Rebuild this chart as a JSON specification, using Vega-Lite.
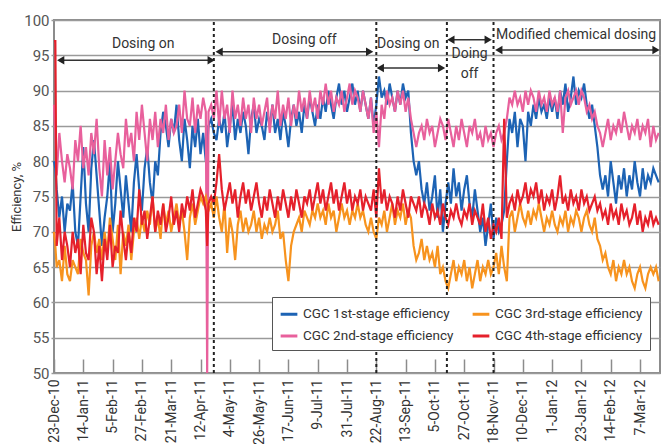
{
  "$schema": "https://vega.github.io/schema/vega-lite/v6.json",
  "width": 606,
  "height": 353,
  "autosize": "none",
  "padding": {"left": 54, "top": 20, "right": 1, "bottom": 71},
  "background": "white",
  "config": {
    "font": "Roboto, Liberation Sans, sans-serif",
    "view": {"stroke": "#8c8c8c", "strokeWidth": 2}
  },
  "datasets": {
    "eff": [
      {"d":"2010-12-23","b":80,"p":88,"o":70,"r":97},
      {"d":"2010-12-24","b":79,"p":84,"o":68,"r":97},
      {"d":"2010-12-25","b":76,"p":78,"o":65,"r":68},
      {"d":"2010-12-27","b":72,"p":84,"o":66,"r":72},
      {"d":"2010-12-29","b":75,"p":80,"o":63,"r":66},
      {"d":"2010-12-31","b":70,"p":77,"o":68,"r":70},
      {"d":"2011-01-02","b":74,"p":81,"o":64,"r":68},
      {"d":"2011-01-04","b":73,"p":79,"o":63,"r":65},
      {"d":"2011-01-06","b":77,"p":76,"o":66,"r":70},
      {"d":"2011-01-08","b":70,"p":83,"o":65,"r":67},
      {"d":"2011-01-10","b":68,"p":80,"o":64,"r":69},
      {"d":"2011-01-12","b":75,"p":85,"o":69,"r":64},
      {"d":"2011-01-14","b":82,"p":79,"o":67,"r":71},
      {"d":"2011-01-16","b":74,"p":82,"o":66,"r":67},
      {"d":"2011-01-18","b":70,"p":78,"o":61,"r":66},
      {"d":"2011-01-20","b":79,"p":84,"o":68,"r":72},
      {"d":"2011-01-22","b":83,"p":81,"o":70,"r":70},
      {"d":"2011-01-24","b":78,"p":86,"o":67,"r":64},
      {"d":"2011-01-26","b":73,"p":79,"o":69,"r":68},
      {"d":"2011-01-28","b":68,"p":75,"o":66,"r":63},
      {"d":"2011-01-30","b":72,"p":83,"o":70,"r":69},
      {"d":"2011-02-01","b":75,"p":78,"o":67,"r":66},
      {"d":"2011-02-03","b":80,"p":82,"o":72,"r":71},
      {"d":"2011-02-05","b":70,"p":76,"o":69,"r":65},
      {"d":"2011-02-07","b":74,"p":80,"o":66,"r":68},
      {"d":"2011-02-09","b":80,"p":84,"o":71,"r":67},
      {"d":"2011-02-11","b":76,"p":81,"o":64,"r":73},
      {"d":"2011-02-13","b":72,"p":79,"o":70,"r":69},
      {"d":"2011-02-15","b":78,"p":86,"o":68,"r":66},
      {"d":"2011-02-17","b":74,"p":82,"o":71,"r":70},
      {"d":"2011-02-19","b":70,"p":84,"o":66,"r":67},
      {"d":"2011-02-21","b":77,"p":80,"o":70,"r":72},
      {"d":"2011-02-23","b":81,"p":87,"o":72,"r":70},
      {"d":"2011-02-25","b":76,"p":83,"o":69,"r":76},
      {"d":"2011-02-27","b":73,"p":88,"o":72,"r":71},
      {"d":"2011-03-01","b":79,"p":84,"o":70,"r":73},
      {"d":"2011-03-03","b":82,"p":80,"o":73,"r":69},
      {"d":"2011-03-05","b":77,"p":86,"o":71,"r":72},
      {"d":"2011-03-07","b":74,"p":83,"o":75,"r":75},
      {"d":"2011-03-09","b":80,"p":87,"o":70,"r":70},
      {"d":"2011-03-11","b":78,"p":82,"o":72,"r":73},
      {"d":"2011-03-13","b":84,"p":86,"o":69,"r":71},
      {"d":"2011-03-15","b":87,"p":84,"o":74,"r":74},
      {"d":"2011-03-17","b":85,"p":88,"o":71,"r":70},
      {"d":"2011-03-19","b":82,"p":83,"o":73,"r":72},
      {"d":"2011-03-21","b":86,"p":86,"o":70,"r":75},
      {"d":"2011-03-23","b":84,"p":84,"o":72,"r":71},
      {"d":"2011-03-25","b":88,"p":85,"o":74,"r":73},
      {"d":"2011-03-27","b":83,"p":88,"o":71,"r":70},
      {"d":"2011-03-29","b":80,"p":84,"o":73,"r":74},
      {"d":"2011-03-31","b":86,"p":90,"o":70,"r":72},
      {"d":"2011-04-02","b":83,"p":86,"o":66,"r":75},
      {"d":"2011-04-04","b":79,"p":85,"o":72,"r":73},
      {"d":"2011-04-06","b":85,"p":89,"o":74,"r":76},
      {"d":"2011-04-08","b":82,"p":84,"o":71,"r":72},
      {"d":"2011-04-10","b":86,"p":88,"o":73,"r":74},
      {"d":"2011-04-12","b":81,"p":86,"o":75,"r":76},
      {"d":"2011-04-14","b":84,"p":89,"o":74,"r":75},
      {"d":"2011-04-16","b":80,"p":87,"o":75,"r":73},
      {"d":"2011-04-17","b":82,"p":50,"o":74,"r":68},
      {"d":"2011-04-18","b":85,"p":87,"o":73,"r":74},
      {"d":"2011-04-20","b":86,"p":88,"o":74,"r":75},
      {"d":"2011-04-22","b":84,"p":86,"o":72,"r":74},
      {"d":"2011-04-24","b":83,"p":90,"o":75,"r":77},
      {"d":"2011-04-26","b":86,"p":85,"o":72,"r":81},
      {"d":"2011-04-28","b":84,"p":90,"o":70,"r":76},
      {"d":"2011-04-30","b":87,"p":86,"o":74,"r":73},
      {"d":"2011-05-02","b":82,"p":88,"o":67,"r":75},
      {"d":"2011-05-04","b":85,"p":84,"o":72,"r":77},
      {"d":"2011-05-06","b":88,"p":90,"o":70,"r":74},
      {"d":"2011-05-08","b":83,"p":86,"o":66,"r":76},
      {"d":"2011-05-10","b":86,"p":88,"o":71,"r":72},
      {"d":"2011-05-12","b":84,"p":85,"o":73,"r":75},
      {"d":"2011-05-14","b":87,"p":89,"o":70,"r":77},
      {"d":"2011-05-16","b":85,"p":86,"o":72,"r":74},
      {"d":"2011-05-18","b":81,"p":88,"o":70,"r":76},
      {"d":"2011-05-20","b":86,"p":84,"o":71,"r":73},
      {"d":"2011-05-22","b":88,"p":89,"o":73,"r":75},
      {"d":"2011-05-24","b":84,"p":86,"o":70,"r":77},
      {"d":"2011-05-26","b":86,"p":88,"o":72,"r":74},
      {"d":"2011-05-28","b":85,"p":85,"o":69,"r":72},
      {"d":"2011-05-30","b":83,"p":87,"o":71,"r":75},
      {"d":"2011-06-01","b":87,"p":89,"o":70,"r":73},
      {"d":"2011-06-03","b":85,"p":84,"o":72,"r":76},
      {"d":"2011-06-05","b":88,"p":88,"o":70,"r":74},
      {"d":"2011-06-07","b":84,"p":86,"o":71,"r":72},
      {"d":"2011-06-09","b":86,"p":90,"o":73,"r":75},
      {"d":"2011-06-11","b":83,"p":85,"o":69,"r":73},
      {"d":"2011-06-13","b":87,"p":88,"o":70,"r":76},
      {"d":"2011-06-15","b":85,"p":86,"o":66,"r":74},
      {"d":"2011-06-17","b":82,"p":89,"o":63,"r":72},
      {"d":"2011-06-19","b":86,"p":85,"o":68,"r":75},
      {"d":"2011-06-21","b":88,"p":88,"o":70,"r":73},
      {"d":"2011-06-23","b":85,"p":86,"o":71,"r":76},
      {"d":"2011-06-25","b":87,"p":90,"o":72,"r":74},
      {"d":"2011-06-27","b":84,"p":87,"o":70,"r":72},
      {"d":"2011-06-29","b":88,"p":89,"o":73,"r":75},
      {"d":"2011-07-01","b":86,"p":86,"o":72,"r":74},
      {"d":"2011-07-03","b":89,"p":90,"o":71,"r":76},
      {"d":"2011-07-05","b":87,"p":87,"o":73,"r":73},
      {"d":"2011-07-07","b":85,"p":89,"o":72,"r":75},
      {"d":"2011-07-09","b":88,"p":86,"o":74,"r":77},
      {"d":"2011-07-11","b":86,"p":90,"o":72,"r":74},
      {"d":"2011-07-13","b":89,"p":88,"o":73,"r":76},
      {"d":"2011-07-15","b":87,"p":91,"o":71,"r":73},
      {"d":"2011-07-17","b":90,"p":88,"o":74,"r":75},
      {"d":"2011-07-19","b":88,"p":90,"o":72,"r":77},
      {"d":"2011-07-21","b":86,"p":87,"o":73,"r":74},
      {"d":"2011-07-23","b":89,"p":89,"o":70,"r":76},
      {"d":"2011-07-25","b":91,"p":88,"o":72,"r":73},
      {"d":"2011-07-27","b":88,"p":90,"o":74,"r":75},
      {"d":"2011-07-29","b":90,"p":87,"o":72,"r":77},
      {"d":"2011-07-31","b":87,"p":89,"o":73,"r":74},
      {"d":"2011-08-02","b":89,"p":91,"o":71,"r":76},
      {"d":"2011-08-04","b":91,"p":88,"o":73,"r":73},
      {"d":"2011-08-06","b":88,"p":90,"o":72,"r":75},
      {"d":"2011-08-08","b":90,"p":89,"o":74,"r":74},
      {"d":"2011-08-10","b":87,"p":87,"o":72,"r":76},
      {"d":"2011-08-12","b":90,"p":90,"o":73,"r":73},
      {"d":"2011-08-14","b":88,"p":88,"o":71,"r":75},
      {"d":"2011-08-16","b":86,"p":86,"o":70,"r":74},
      {"d":"2011-08-18","b":89,"p":89,"o":72,"r":73},
      {"d":"2011-08-20","b":85,"p":84,"o":70,"r":76},
      {"d":"2011-08-22","b":88,"p":87,"o":69,"r":72},
      {"d":"2011-08-24","b":92,"p":82,"o":72,"r":79},
      {"d":"2011-08-26","b":89,"p":88,"o":71,"r":74},
      {"d":"2011-08-28","b":90,"p":86,"o":73,"r":76},
      {"d":"2011-08-30","b":88,"p":90,"o":70,"r":73},
      {"d":"2011-09-01","b":91,"p":88,"o":72,"r":75},
      {"d":"2011-09-03","b":89,"p":89,"o":74,"r":74},
      {"d":"2011-09-05","b":87,"p":87,"o":71,"r":72},
      {"d":"2011-09-07","b":90,"p":90,"o":73,"r":75},
      {"d":"2011-09-09","b":88,"p":88,"o":72,"r":73},
      {"d":"2011-09-11","b":91,"p":90,"o":74,"r":76},
      {"d":"2011-09-13","b":89,"p":87,"o":71,"r":74},
      {"d":"2011-09-15","b":90,"p":89,"o":73,"r":72},
      {"d":"2011-09-17","b":84,"p":86,"o":72,"r":75},
      {"d":"2011-09-19","b":80,"p":84,"o":68,"r":74},
      {"d":"2011-09-21","b":78,"p":82,"o":66,"r":73},
      {"d":"2011-09-23","b":80,"p":84,"o":67,"r":75},
      {"d":"2011-09-25","b":76,"p":85,"o":69,"r":72},
      {"d":"2011-09-27","b":74,"p":83,"o":66,"r":74},
      {"d":"2011-09-29","b":77,"p":86,"o":68,"r":73},
      {"d":"2011-10-01","b":73,"p":84,"o":66,"r":71},
      {"d":"2011-10-03","b":75,"p":85,"o":67,"r":74},
      {"d":"2011-10-05","b":78,"p":82,"o":65,"r":72},
      {"d":"2011-10-07","b":72,"p":84,"o":68,"r":73},
      {"d":"2011-10-09","b":76,"p":86,"o":64,"r":71},
      {"d":"2011-10-11","b":70,"p":85,"o":65,"r":74},
      {"d":"2011-10-13","b":74,"p":83,"o":63,"r":72},
      {"d":"2011-10-15","b":77,"p":86,"o":62,"r":71},
      {"d":"2011-10-17","b":74,"p":84,"o":64,"r":73},
      {"d":"2011-10-19","b":79,"p":82,"o":66,"r":72},
      {"d":"2011-10-21","b":75,"p":85,"o":63,"r":74},
      {"d":"2011-10-23","b":77,"p":83,"o":65,"r":72},
      {"d":"2011-10-25","b":73,"p":86,"o":64,"r":71},
      {"d":"2011-10-27","b":76,"p":84,"o":66,"r":73},
      {"d":"2011-10-29","b":78,"p":82,"o":63,"r":72},
      {"d":"2011-10-31","b":74,"p":85,"o":65,"r":74},
      {"d":"2011-11-02","b":72,"p":84,"o":62,"r":71},
      {"d":"2011-11-04","b":76,"p":86,"o":64,"r":73},
      {"d":"2011-11-06","b":73,"p":83,"o":66,"r":72},
      {"d":"2011-11-08","b":70,"p":84,"o":63,"r":71},
      {"d":"2011-11-10","b":72,"p":82,"o":65,"r":74},
      {"d":"2011-11-12","b":68,"p":85,"o":64,"r":70},
      {"d":"2011-11-14","b":71,"p":83,"o":66,"r":72},
      {"d":"2011-11-16","b":74,"p":84,"o":64,"r":69},
      {"d":"2011-11-18","b":69,"p":82,"o":65,"r":71},
      {"d":"2011-11-20","b":72,"p":84,"o":67,"r":70},
      {"d":"2011-11-22","b":70,"p":85,"o":64,"r":72},
      {"d":"2011-11-24","b":71,"p":83,"o":68,"r":69},
      {"d":"2011-11-26","b":73,"p":84,"o":65,"r":86},
      {"d":"2011-11-28","b":80,"p":86,"o":63,"r":72},
      {"d":"2011-11-30","b":86,"p":89,"o":72,"r":74},
      {"d":"2011-12-02","b":84,"p":88,"o":73,"r":75},
      {"d":"2011-12-04","b":87,"p":90,"o":70,"r":73},
      {"d":"2011-12-06","b":82,"p":88,"o":72,"r":76},
      {"d":"2011-12-08","b":86,"p":89,"o":74,"r":74},
      {"d":"2011-12-10","b":85,"p":87,"o":72,"r":75},
      {"d":"2011-12-12","b":80,"p":90,"o":71,"r":77},
      {"d":"2011-12-14","b":87,"p":88,"o":73,"r":74},
      {"d":"2011-12-16","b":85,"p":90,"o":71,"r":76},
      {"d":"2011-12-18","b":88,"p":89,"o":73,"r":75},
      {"d":"2011-12-20","b":86,"p":87,"o":72,"r":77},
      {"d":"2011-12-22","b":89,"p":90,"o":74,"r":74},
      {"d":"2011-12-24","b":87,"p":88,"o":72,"r":76},
      {"d":"2011-12-26","b":88,"p":89,"o":70,"r":73},
      {"d":"2011-12-28","b":86,"p":87,"o":72,"r":75},
      {"d":"2011-12-30","b":89,"p":90,"o":71,"r":74},
      {"d":"2012-01-01","b":87,"p":88,"o":73,"r":76},
      {"d":"2012-01-03","b":89,"p":89,"o":71,"r":73},
      {"d":"2012-01-05","b":86,"p":87,"o":70,"r":75},
      {"d":"2012-01-07","b":90,"p":90,"o":72,"r":78},
      {"d":"2012-01-09","b":88,"p":84,"o":71,"r":74},
      {"d":"2012-01-11","b":91,"p":89,"o":73,"r":75},
      {"d":"2012-01-13","b":87,"p":90,"o":70,"r":73},
      {"d":"2012-01-15","b":89,"p":88,"o":72,"r":76},
      {"d":"2012-01-17","b":92,"p":89,"o":71,"r":74},
      {"d":"2012-01-19","b":88,"p":90,"o":73,"r":75},
      {"d":"2012-01-21","b":90,"p":88,"o":72,"r":73},
      {"d":"2012-01-23","b":89,"p":90,"o":70,"r":76},
      {"d":"2012-01-25","b":91,"p":89,"o":72,"r":74},
      {"d":"2012-01-27","b":88,"p":87,"o":73,"r":75},
      {"d":"2012-01-29","b":86,"p":88,"o":71,"r":73},
      {"d":"2012-01-31","b":88,"p":86,"o":70,"r":74},
      {"d":"2012-02-02","b":85,"p":87,"o":72,"r":75},
      {"d":"2012-02-04","b":82,"p":85,"o":69,"r":73},
      {"d":"2012-02-06","b":78,"p":84,"o":68,"r":74},
      {"d":"2012-02-08","b":76,"p":82,"o":66,"r":72},
      {"d":"2012-02-10","b":78,"p":84,"o":67,"r":73},
      {"d":"2012-02-12","b":75,"p":86,"o":65,"r":71},
      {"d":"2012-02-14","b":80,"p":83,"o":64,"r":74},
      {"d":"2012-02-16","b":77,"p":85,"o":66,"r":72},
      {"d":"2012-02-18","b":74,"p":84,"o":63,"r":73},
      {"d":"2012-02-20","b":78,"p":86,"o":65,"r":71},
      {"d":"2012-02-22","b":76,"p":84,"o":64,"r":74},
      {"d":"2012-02-24","b":79,"p":87,"o":66,"r":72},
      {"d":"2012-02-26","b":75,"p":85,"o":64,"r":73},
      {"d":"2012-02-28","b":78,"p":83,"o":65,"r":71},
      {"d":"2012-03-01","b":76,"p":85,"o":63,"r":72},
      {"d":"2012-03-03","b":80,"p":84,"o":62,"r":74},
      {"d":"2012-03-05","b":77,"p":86,"o":64,"r":71},
      {"d":"2012-03-07","b":75,"p":83,"o":65,"r":73},
      {"d":"2012-03-09","b":79,"p":85,"o":63,"r":70},
      {"d":"2012-03-11","b":76,"p":84,"o":62,"r":72},
      {"d":"2012-03-13","b":78,"p":86,"o":64,"r":71},
      {"d":"2012-03-15","b":77,"p":82,"o":65,"r":73},
      {"d":"2012-03-17","b":79,"p":85,"o":64,"r":71},
      {"d":"2012-03-19","b":78,"p":83,"o":65,"r":72},
      {"d":"2012-03-21","b":77,"p":84,"o":63,"r":71}
    ],
    "phases": [
      {"d":"2011-04-22","y":50,"y2":100},
      {"d":"2011-08-22","y":50,"y2":100},
      {"d":"2011-10-14","y":50,"y2":100},
      {"d":"2011-11-18","y":50,"y2":100}
    ],
    "arrows": [
      {"d":"2010-12-28","d2":"2011-04-20","y":94.3},
      {"d":"2011-04-26","d2":"2011-08-17","y":95.5},
      {"d":"2011-08-25","d2":"2011-10-10","y":93.2},
      {"d":"2011-10-17","d2":"2011-11-14","y":97.2},
      {"d":"2011-11-22","d2":"2012-03-19","y":95.75}
    ],
    "heads": [
      {"d":"2010-12-28","y":94.3,"s":"triangle-left"},
      {"d":"2011-04-20","y":94.3,"s":"triangle-right"},
      {"d":"2011-04-26","y":95.5,"s":"triangle-left"},
      {"d":"2011-08-17","y":95.5,"s":"triangle-right"},
      {"d":"2011-08-25","y":93.2,"s":"triangle-left"},
      {"d":"2011-10-10","y":93.2,"s":"triangle-right"},
      {"d":"2011-10-17","y":97.2,"s":"triangle-left"},
      {"d":"2011-11-14","y":97.2,"s":"triangle-right"},
      {"d":"2011-11-22","y":95.75,"s":"triangle-left"},
      {"d":"2012-03-19","y":95.75,"s":"triangle-right"}
    ],
    "notes": [
      {"d":"2011-02-28","y":96.6,"t":"Dosing on"},
      {"d":"2011-06-29","y":97.2,"t":"Dosing off"},
      {"d":"2011-09-15","y":96.6,"t":"Dosing on"},
      {"d":"2011-10-31","y":95.2,"t":"Doing"},
      {"d":"2011-10-31","y":92.4,"t":"off"},
      {"d":"2012-01-19","y":97.9,"t":"Modified chemical dosing"}
    ]
  },
  "encoding": {
    "x": {
      "field": "d", "type": "temporal", "title": null,
      "scale": {"type": "utc", "domain": [{"year": 2010, "month": "Dec", "date": 23, "utc": true}, {"year": 2012, "month": "Mar", "date": 22, "utc": true}]},
      "axis": {
        "values": [
          {"year": 2010, "month": "Dec", "date": 23, "utc": true},
          {"year": 2011, "month": "Jan", "date": 14, "utc": true},
          {"year": 2011, "month": "Feb", "date": 5, "utc": true},
          {"year": 2011, "month": "Feb", "date": 27, "utc": true},
          {"year": 2011, "month": "Mar", "date": 21, "utc": true},
          {"year": 2011, "month": "Apr", "date": 12, "utc": true},
          {"year": 2011, "month": "May", "date": 4, "utc": true},
          {"year": 2011, "month": "May", "date": 26, "utc": true},
          {"year": 2011, "month": "Jun", "date": 17, "utc": true},
          {"year": 2011, "month": "Jul", "date": 9, "utc": true},
          {"year": 2011, "month": "Jul", "date": 31, "utc": true},
          {"year": 2011, "month": "Aug", "date": 22, "utc": true},
          {"year": 2011, "month": "Sep", "date": 13, "utc": true},
          {"year": 2011, "month": "Oct", "date": 5, "utc": true},
          {"year": 2011, "month": "Oct", "date": 27, "utc": true},
          {"year": 2011, "month": "Nov", "date": 18, "utc": true},
          {"year": 2011, "month": "Dec", "date": 10, "utc": true},
          {"year": 2012, "month": "Jan", "date": 1, "utc": true},
          {"year": 2012, "month": "Jan", "date": 23, "utc": true},
          {"year": 2012, "month": "Feb", "date": 14, "utc": true},
          {"year": 2012, "month": "Mar", "date": 7, "utc": true}
        ],
        "labelExpr": "utcFormat(datum.value, '%-d-%b-%y')",
        "labelAngle": 270,
        "labelFontSize": 14,
        "labelColor": "#333333",
        "labelOverlap": false,
        "labelFlush": false,
        "labelBound": false,
        "grid": false,
        "domain": false,
        "tickSize": -14,
        "tickColor": "#8c8c8c",
        "tickWidth": 1.5,
        "labelPadding": 20
      }
    },
    "y": {
      "field": "y", "type": "quantitative",
      "scale": {"domain": [50, 100], "nice": false, "zero": false},
      "axis": {
        "values": [50, 55, 60, 65, 70, 75, 80, 85, 90, 95, 100],
        "title": "Efficiency, %",
        "titleFontSize": 13,
        "titleFontWeight": "normal",
        "titleColor": "#333333",
        "titlePadding": 0,
        "labelFontSize": 15,
        "labelColor": "#555555",
        "labelPadding": 2,
        "grid": true,
        "gridColor": "#9a9a9a",
        "gridWidth": 1.5,
        "domain": false,
        "tickSize": 3,
        "tickColor": "#9a9a9a",
        "tickWidth": 1.5
      }
    }
  },
  "layer": [
    {
      "data": {"name": "eff"},
      "transform": [{"fold": ["b", "p", "o", "r"], "as": ["k", "y"]}],
      "mark": {"type": "line", "strokeWidth": 2.2},
      "encoding": {
        "color": {
          "field": "k", "type": "nominal",
          "scale": {"domain": ["b", "p", "o", "r"], "range": ["#1d63b4", "#e8609c", "#f7931e", "#e5202b"]},
          "legend": {
            "title": null,
            "orient": "none",
            "legendX": 218,
            "legendY": 277,
            "columns": 2,
            "columnPadding": 12,
            "rowPadding": 5,
            "padding": 7,
            "fillColor": "white",
            "strokeColor": "#555555",
            "symbolType": "stroke",
            "symbolStrokeWidth": 3,
            "symbolSize": 280,
            "labelFontSize": 13.5,
            "labelColor": "#333333",
            "labelLimit": 250,
            "labelExpr": "datum.label == 'b' ? 'CGC 1st-stage efficiency' : datum.label == 'p' ? 'CGC 2nd-stage efficiency' : datum.label == 'o' ? 'CGC 3rd-stage efficiency' : 'CGC 4th-stage efficiency'"
          }
        }
      }
    },
    {
      "data": {"name": "phases"},
      "mark": {"type": "rule", "color": "#222222", "strokeWidth": 2, "strokeDash": [3, 3]},
      "encoding": {
        "y2": {"field": "y2"}
      }
    },
    {
      "data": {"name": "arrows"},
      "mark": {"type": "rule", "color": "#333333", "strokeWidth": 1.5},
      "encoding": {
        "x2": {"field": "d2"}
      }
    },
    {
      "data": {"name": "heads"},
      "mark": {"type": "point", "filled": true, "color": "#222222", "size": 70, "opacity": 1},
      "encoding": {
        "shape": {"field": "s", "type": "nominal", "scale": null}
      }
    },
    {
      "data": {"name": "notes"},
      "mark": {"type": "text", "fontSize": 14, "color": "#333333", "align": "center", "baseline": "middle"},
      "encoding": {
        "text": {"field": "t"}
      }
    }
  ]
}
